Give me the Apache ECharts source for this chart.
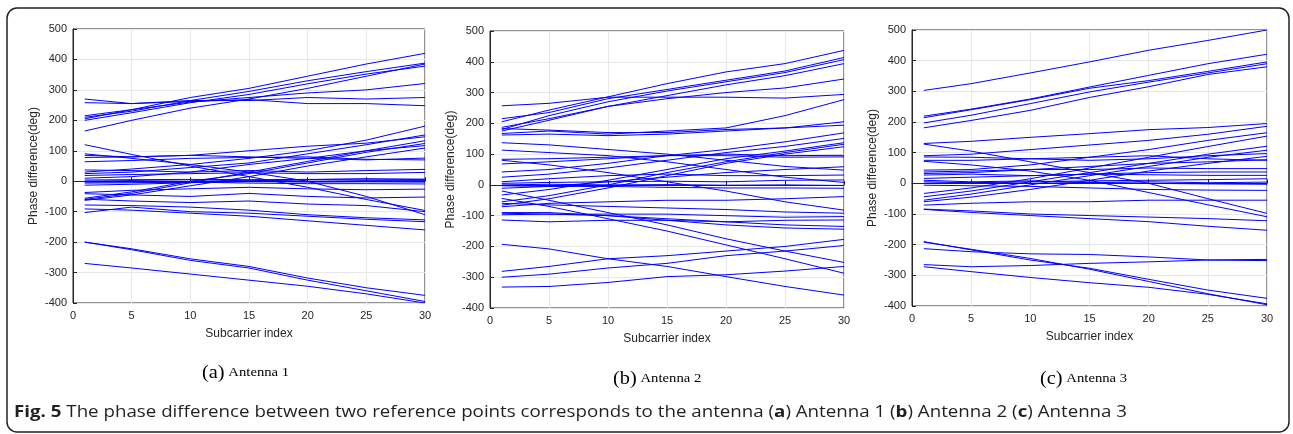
<!DOCTYPE html>
<html>
<head>
<meta charset="utf-8">
<script src="https://cdn.jsdelivr.net/npm/echarts@6/dist/echarts.min.js"></script>
<style>
  html, body { margin: 0; padding: 0; background: #fff; }
  #chart { width: 1293px; height: 434px; }
</style>
</head>
<body>
<div id="chart"></div>
<script>
var subcarriers = [1, 5, 10, 15, 20, 25, 30]

// Antenna 1 curves (deg)
var antenna1 = [
  [205, 235, 275, 305, 345, 385, 420],
  [210, 230, 265, 295, 330, 360, 388],
  [200, 225, 258, 285, 320, 352, 378],
  [165, 200, 240, 270, 305, 345, 385],
  [215, 235, 260, 275, 290, 300, 321],
  [270, 255, 265, 265, 275, 270, 275],
  [258, 255, 262, 268, 255, 255, 248],
  [120, 88, 50, 15, -20, -60, -96],
  [90, 75, 55, 30, 0, -50, -110],
  [85, 80, 85, 100, 115, 125, 146],
  [78, 80, 85, 80, 75, 70, 76],
  [64, 68, 75, 78, 80, 72, 70],
  [37, 35, 30, 35, 30, 35, 39],
  [30, 40, 55, 75, 100, 135, 181],
  [25, 30, 45, 60, 90, 120, 152],
  [19, 22, 25, 28, 25, 25, 29],
  [10, 15, 30, 55, 75, 100, 133],
  [4, 5, 6, 5, 6, 7, 7],
  [0, 2, 0, 3, 0, 2, 2],
  [-3, -2, -4, -1, -3, -2, -3],
  [-6, -5, -3, -6, -8, -8, -9],
  [-13, -10, -5, 0, 5, 8, 5],
  [-37, -30, -25, -20, -25, -28, -26],
  [-41, -45, -50, -40, -50, -55, -52],
  [-56, -35, 0, 25, 60, 95, 124],
  [-60, -40, -5, 30, 65, 100, 117],
  [-63, -45, -15, 15, 50, 80, 109],
  [-59, -65, -70, -65, -75, -80, -100],
  [-78, -80, -85, -95, -110, -120, -127],
  [-91, -95, -105, -115, -130, -145, -160],
  [-103, -85, -100, -105, -115, -125, -133],
  [-200, -222, -255, -280, -318, -350, -375],
  [-200, -225, -260, -285, -325, -360, -395],
  [-270, -285, -305, -325, -345, -370, -400]
]

// Antenna 2 curves (deg)
var antenna2 = [
  [205, 243, 286, 329, 367, 394, 437],
  [215, 235, 280, 310, 340, 370, 414],
  [180, 225, 270, 305, 335, 365, 407],
  [175, 210, 255, 290, 325, 355, 394],
  [187, 215, 255, 280, 300, 315, 344],
  [257, 265, 285, 285, 285, 282, 294],
  [167, 175, 165, 175, 185, 225, 277],
  [183, 178, 170, 170, 180, 185, 194],
  [162, 165, 160, 165, 175, 185, 205],
  [137, 130, 115, 100, 80, 60, 48],
  [113, 105, 95, 75, 50, 25, 8],
  [83, 85, 90, 95, 100, 95, 96],
  [80, 65, 40, 10, -20, -55, -82],
  [68, 75, 85, 95, 95, 90, 91],
  [42, 50, 70, 95, 115, 140, 169],
  [25, 35, 55, 80, 105, 125, 151],
  [10, 20, 30, 35, 30, 30, 32],
  [5, 8, 10, 12, 10, 15, 16],
  [0, 2, 0, 1, -1, 0, -2],
  [-3, -5, -5, -8, -10, -10, -11],
  [-11, -5, 10, 25, 40, 50, 59],
  [-20, -50, -90, -130, -175, -215, -252],
  [-33, -15, 15, 50, 85, 110, 137],
  [-44, -70, -110, -150, -195, -240, -287],
  [-55, -35, 0, 40, 75, 105, 132],
  [-66, -45, -10, 30, 70, 100, 124],
  [-71, -60, -55, -50, -50, -45, -38],
  [-60, -65, -70, -75, -80, -88, -92],
  [-92, -95, -95, -95, -100, -105, -103],
  [-97, -95, -100, -110, -120, -130, -135],
  [-90, -90, -100, -115, -130, -140, -144],
  [-114, -120, -115, -115, -120, -115, -114],
  [-193, -208, -240, -265, -298, -330, -358],
  [-281, -265, -240, -230, -215, -200, -177],
  [-300, -290, -270, -255, -230, -215, -197],
  [-332, -330, -317, -298, -292, -280, -265]
]

// Antenna 3 curves (deg)
var antenna3 = [
  [303, 325, 360, 396, 434, 466, 500],
  [219, 242, 275, 314, 352, 390, 421],
  [214, 240, 273, 310, 335, 365, 396],
  [197, 222, 260, 298, 330, 360, 390],
  [181, 205, 238, 280, 315, 355, 380],
  [130, 137, 150, 162, 175, 182, 195],
  [128, 105, 70, 35, 0, -50, -98],
  [90, 95, 110, 125, 140, 160, 186],
  [86, 85, 80, 85, 90, 80, 75],
  [75, 75, 80, 75, 80, 90, 97],
  [72, 60, 40, 10, -30, -70, -109],
  [43, 45, 60, 85, 110, 140, 165],
  [37, 40, 45, 45, 50, 48, 48],
  [32, 35, 45, 55, 65, 70, 77],
  [27, 30, 25, 30, 28, 26, 26],
  [16, 20, 25, 30, 35, 37, 37],
  [10, 5, 8, 3, 5, 2, 4],
  [5, 2, 0, 3, 0, -2, -3],
  [0, 2, 5, 8, 10, 12, 15],
  [-6, -8, -10, -15, -20, -22, -23],
  [-33, -15, 15, 50, 85, 120, 154],
  [-44, -25, 5, 35, 65, 95, 121],
  [-55, -35, -5, 25, 55, 85, 108],
  [-60, -45, -20, 10, 40, 65, 88],
  [-71, -65, -60, -60, -55, -55, -55],
  [-84, -90, -100, -105, -110, -115, -122],
  [-85, -95, -105, -115, -125, -140, -153],
  [-190, -217, -250, -277, -313, -348, -375],
  [-192, -215, -245, -280, -320, -360, -396],
  [-213, -223, -230, -232, -240, -250, -252],
  [-265, -272, -268, -261, -256, -250, -248],
  [-272, -288, -307, -324, -339, -362, -393]
]

var panels = [antenna1, antenna2, antenna3]
var subCaptions = ['(a)', '(b)', '(c)']
var subNames = ['Antenna 1', 'Antenna 2', 'Antenna 3']

var grids = [
  {left: 73, top: 29, width: 352, height: 274},
  {left: 490, top: 31, width: 354, height: 277},
  {left: 912, top: 30, width: 355, height: 276}
]
var captionPos = [[202, 373], [613, 379], [1040, 379]]

var ink = '#262626'
var chart = echarts.init(document.getElementById('chart'))

var series = []
panels.forEach(function(lines, p) {
  lines.forEach(function(line) {
    series.push({
      type: 'line',
      xAxisIndex: p,
      yAxisIndex: p,
      symbol: 'none',
      silent: true,
      lineStyle: {color: '#0000ff', width: 1},
      data: subcarriers.map(function(s, i) { return [s, line[i]] })
    })
  })
})

var option = {
  animation: false,
  grid: grids.map(function(g) {
    return Object.assign({show: true, borderColor: ink, borderWidth: 1, backgroundColor: '#fff'}, g)
  }),
  xAxis: grids.map(function(g, p) {
    return {
      type: 'value', gridIndex: p, min: 0, max: 30, interval: 5,
      name: 'Subcarrier index', nameLocation: 'middle', nameGap: 25,
      nameTextStyle: {color: ink, fontSize: 12, fontFamily: 'Liberation Sans'},
      axisLine: {show: true, lineStyle: {color: ink}},
      axisTick: {show: true, inside: true, length: 4, lineStyle: {color: ink}},
      axisLabel: {color: ink, fontSize: 11, fontFamily: 'Liberation Sans', margin: 7},
      splitLine: {show: true, lineStyle: {color: '#e8e8e8'}}
    }
  }),
  yAxis: grids.map(function(g, p) {
    return {
      type: 'value', gridIndex: p, min: -400, max: 500, interval: 100,
      name: 'Phase difference(deg)', nameLocation: 'middle', nameGap: 33,
      nameTextStyle: {color: ink, fontSize: 12, fontFamily: 'Liberation Sans'},
      axisLine: {show: true, lineStyle: {color: ink}},
      axisTick: {show: true, inside: true, length: 4, lineStyle: {color: ink}},
      axisLabel: {color: ink, fontSize: 11, fontFamily: 'Liberation Sans', margin: 6},
      splitLine: {show: true, lineStyle: {color: '#e8e8e8'}}
    }
  }),
  graphic: [
    {
      type: 'rect', silent: true, z: -10,
      shape: {x: 7, y: 8, width: 1282, height: 424, r: 10},
      style: {fill: 'none', stroke: '#222', lineWidth: 1.5}
    },
    {
      type: 'text', x: 14, y: 412, scaleX: 1.17,
      style: {
        text: '{b|Fig. 5} The phase difference between two reference points corresponds to the antenna ({b|a}) Antenna 1 ({b|b}) Antenna 2 ({b|c}) Antenna 3',
        fill: '#231f20',
        verticalAlign: 'middle',
        font: '16px "Open Sans"',
        rich: {
          b: {fontWeight: 'bold', fontSize: 16, fontFamily: 'Open Sans', fill: '#231f20'}
        }
      }
    }
  ].concat(captionPos.map(function(pos, p) {
    return {
      type: 'text', x: pos[0], y: pos[1], scaleX: 1.13,
      style: {
        text: '{p|' + subCaptions[p] + '} {t|' + subNames[p] + '}',
        verticalAlign: 'middle',
        fill: '#000',
        rich: {
          p: {fontSize: 18, fontFamily: 'Liberation Serif', fill: '#000'},
          t: {fontSize: 13, fontFamily: 'Liberation Serif', fill: '#000'}
        }
      }
    }
  })),
  series: series
}

chart.setOption(option)
</script>
</body>
</html>
